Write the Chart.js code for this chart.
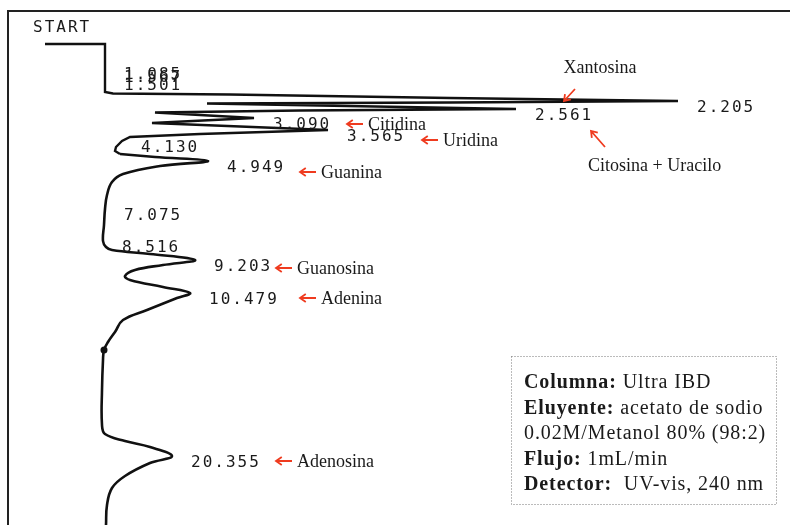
<!DOCTYPE html>
<html lang="es">
<head>
<meta charset="UTF-8">
<title>Cromatograma - nucleósidos y bases</title>
<style>
  body { margin: 0; background: #fff; }
  canvas { display: block; }
</style>
</head>
<body>
<canvas id="trace" width="790" height="525"></canvas>
<script src="https://cdn.jsdelivr.net/npm/chart.js@4.4.0/dist/chart.umd.min.js"></script>
<script>
// integrator chart paper: pen deflection from baseline (mm) vs paper travel from START (mm)
const signalMm = [
  -24, 0, 0, 0, 0, 0, 3.2, 50, 138, 229.2, 138, 40.8, 164.4, 78, 20, 59.6,
  18.8, 89.2, 38, 10, 6.8, 4.4, 4, 6, 20, 41.2, 22, 7.2, 2.8, 0.8, 0, -0.4,
  -0.8, 0.4, 2.8, 18, 36, 23.2, 12, 8, 10, 23.2, 34, 28.8, 16.8, 7.2, 4, 1.2,
  -0.4, -0.8, -1.2, -1.2, 0, 8, 18, 26.8, 18, 8, 2.8, 0.8, 0.4
]
const paperMm = [
  0, 0, 9.6, 10.8, 14, 19.2, 19.8, 20.2, 21.6, 22.8, 23.4, 23.8, 26, 26.6, 27.4, 29.6,
  31.6, 34.4, 36, 37.2, 38.8, 41.2, 42.8, 44, 45.2, 46.8, 48.8, 52, 55.2, 60.4, 66, 72.4,
  78.8, 81.2, 82.4, 84, 86.4, 88.4, 90.4, 92.8, 94.4, 97.2, 99.6, 101.6, 106.4, 110.4, 115.2, 119.2,
  122.4, 126.4, 138.4, 152.4, 156, 158.8, 161.2, 164.8, 167.6, 172.8, 177.6, 184.4, 192.4
]

// retention times printed by the integrator and the trace point each one marks
const retentionTimes = ['1.085', '1.567', '1.501', '2.205', '2.561', '3.090', '3.565',
  '4.130', '4.949', '7.075', '8.516', '9.203', '10.479', '20.355']
const retentionIndex = [2, 3, 4, 9, 12, 15, 17, 20, 25, 30, 32, 36, 42, 55]

// identified compounds and the peak they belong to
const compounds = ['Xantosina', 'Citosina + Uracilo', 'Citidina', 'Uridina',
  'Guanina', 'Guanosina', 'Adenina', 'Adenosina']
const compoundPeak = ['2.205', '2.561', '3.090', '3.565', '4.949', '9.203', '10.479', '20.355']

const conditions = [
  ['Columna:', ' Ultra IBD'],
  ['Eluyente:', ' acetato de sodio'],
  ['', '0.02M/Metanol 80% (98:2)'],
  ['Flujo:', ' 1mL/min'],
  ['Detector:', '  UV-vis, 240 nm']
]

const points = signalMm.map((s, i) => ({ x: s, y: paperMm[i] }))
const BLOB = 48 // pen blot on the slow drift
const SPLIT = 23

const RED = '#ef3b1f'
const MONO = '16px "DejaVu Sans Mono", monospace'
const SERIF = '18px "Liberation Serif", serif'

// where each compound note sits relative to its peak apex
const noteLayout = {
  'Xantosina': { type: 'down', text: [-78, -33], from: [-103, -12], to: [-114, 0] },
  'Citosina + Uracilo': { type: 'up', text: [72, 57], from: [89, 38], to: [75, 22] },
  'Citidina': { arrow: [93, 6] },
  'Uridina': { arrow: [94, 10] },
  'Guanina': { arrow: [92, 11] },
  'Guanosina': { arrow: [81, 8] },
  'Adenina': { arrow: [110, 5] },
  'Adenosina': { arrow: [104, 5] }
}

const arrow = (ctx, x1, y1, x2, y2) => {
  const a = Math.atan2(y2 - y1, x2 - x1)
  const h = 7
  ctx.beginPath()
  ctx.moveTo(x1, y1)
  ctx.lineTo(x2, y2)
  ctx.moveTo(x2 + h * Math.cos(a + Math.PI - 0.6), y2 + h * Math.sin(a + Math.PI - 0.6))
  ctx.lineTo(x2, y2)
  ctx.lineTo(x2 + h * Math.cos(a + Math.PI + 0.6), y2 + h * Math.sin(a + Math.PI + 0.6))
  ctx.stroke()
}

const paperLabels = {
  id: 'paperLabels',
  afterDraw(chart) {
    const { ctx, scales: { x, y } } = chart
    const apex = {}
    ctx.save()

    // paper frame
    ctx.strokeStyle = '#222'
    ctx.lineWidth = 2
    ctx.beginPath()
    ctx.moveTo(8, 525)
    ctx.lineTo(8, 11)
    ctx.lineTo(790, 11)
    ctx.stroke()

    // integrator printout
    ctx.fillStyle = '#1a1a1a'
    ctx.font = MONO
    ctx.letterSpacing = '2px'
    ctx.textBaseline = 'middle'
    ctx.fillText('START', 33, 28)
    retentionTimes.forEach((rt, i) => {
      const p = points[retentionIndex[i]]
      const px = x.getPixelForValue(p.x)
      const py = y.getPixelForValue(p.y)
      apex[rt] = [px, py]
      ctx.fillText(rt, px + 19, py + 7)
    })
    ctx.letterSpacing = '0px'

    // compound notes
    ctx.strokeStyle = RED
    ctx.fillStyle = '#1a1a1a'
    ctx.lineWidth = 1.8
    ctx.font = SERIF
    compounds.forEach((name, i) => {
      const [px, py] = apex[compoundPeak[i]]
      const L = noteLayout[name]
      if (L.arrow) {
        const ax = px + L.arrow[0]
        const ay = py + L.arrow[1]
        arrow(ctx, ax + 16, ay, ax, ay)
        ctx.textAlign = 'left'
        ctx.fillText(name, ax + 21, ay + 1)
      } else {
        arrow(ctx, px + L.from[0], py + L.from[1], px + L.to[0], py + L.to[1])
        ctx.textAlign = L.type === 'down' ? 'center' : 'left'
        ctx.fillText(name, px + L.text[0], py + L.text[1])
      }
    })

    // run conditions box
    ctx.textAlign = 'left'
    ctx.strokeStyle = '#777'
    ctx.lineWidth = 1
    ctx.setLineDash([1, 2])
    ctx.strokeRect(511.5, 356.5, 265, 148)
    ctx.setLineDash([])
    ctx.letterSpacing = '0.9px'
    conditions.forEach(([bold, rest], i) => {
      const ty = 383 + i * 25.5
      ctx.font = 'bold 20px "Liberation Serif", serif'
      ctx.fillText(bold, 524, ty)
      const w = bold ? ctx.measureText(bold).width : 0
      ctx.font = '20px "Liberation Serif", serif'
      ctx.fillText(rest, 524 + w, ty)
    })
    ctx.restore()
  }
}

new Chart(document.getElementById('trace'), {
  type: 'scatter',
  data: {
    datasets: [
      {
        data: points.slice(0, SPLIT + 1),
        showLine: true,
        borderColor: '#111',
        borderWidth: 2.4,
        pointRadius: 0,
        tension: 0
      },
      {
        data: points.slice(SPLIT),
        showLine: true,
        borderColor: '#111',
        borderWidth: 2.6,
        pointRadius: points.slice(SPLIT).map((p, i) => (i + SPLIT === BLOB ? 3.5 : 0)),
        pointBackgroundColor: '#111',
        pointBorderWidth: 0,
        tension: 0.4
      }
    ]
  },
  options: {
    responsive: false,
    animation: false,
    layout: { padding: 0 },
    plugins: { legend: { display: false }, tooltip: { enabled: false } },
    scales: {
      x: { type: 'linear', min: -42, max: 274, display: false },
      y: { type: 'linear', min: -17.6, max: 192.4, reverse: true, display: false }
    }
  },
  plugins: [paperLabels]
})
</script>
</body>
</html>
